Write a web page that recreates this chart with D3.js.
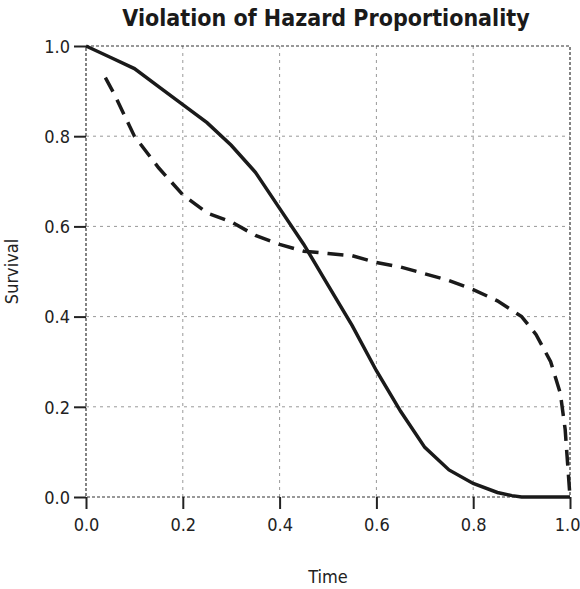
<!DOCTYPE html>
<html><head><meta charset="utf-8">
<script src="https://cdn.jsdelivr.net/npm/d3@7"></script>
<style>
body{margin:0;background:#fff}
text{font-family:"DejaVu Sans Condensed","DejaVu Sans",sans-serif;font-stretch:condensed}
</style></head><body>
<svg id="c" width="580" height="589"></svg>
<script>
// data
const solidT = [0,0.05,0.1,0.15,0.2,0.25,0.3,0.35,0.4,0.45,0.5,0.55,0.6,0.65,0.7,0.75,0.8,0.85,0.88,0.9,1.0];
const solidS = [1,0.975,0.95,0.91,0.87,0.83,0.78,0.72,0.64,0.56,0.47,0.38,0.28,0.19,0.11,0.06,0.03,0.01,0.003,0,0];
const dashT = [0.04,0.06,0.1,0.15,0.2,0.25,0.3,0.35,0.4,0.45,0.5,0.55,0.6,0.65,0.7,0.75,0.8,0.85,0.9,0.93,0.96,0.98,0.99,1.0];
const dashS = [0.93,0.89,0.8,0.73,0.67,0.63,0.61,0.58,0.56,0.545,0.54,0.535,0.52,0.51,0.495,0.48,0.46,0.435,0.40,0.36,0.30,0.23,0.15,0.0];
const ticks = [0,0.2,0.4,0.6,0.8,1.0];

const svg = d3.select("#c");
const x = d3.scaleLinear().domain([0,1]).range([86,570]);
const y = d3.scaleLinear().domain([0,1]).range([497,46]);

// grid
svg.append("g").selectAll("line").data(ticks.slice(1,5)).join("line")
  .attr("x1", d => x(d)).attr("x2", d => x(d)).attr("y1", y(0)).attr("y2", y(1))
  .attr("stroke","#999").attr("stroke-dasharray","3,4");
svg.append("g").selectAll("line").data(ticks.slice(1,5)).join("line")
  .attr("y1", d => y(d)).attr("y2", d => y(d)).attr("x1", x(0)).attr("x2", x(1))
  .attr("stroke","#999").attr("stroke-dasharray","3,4");
// border
svg.append("rect").attr("x",x(0)).attr("y",y(1)).attr("width",x(1)-x(0)).attr("height",y(0)-y(1))
  .attr("fill","none").attr("stroke","#333").attr("stroke-dasharray","3,2").attr("stroke-width",1.2);

const xAxis = svg.append("g").attr("transform",`translate(0,${y(0)})`)
  .call(d3.axisBottom(x).tickValues(ticks).tickFormat(d3.format(".1f")).tickSize(12).tickSizeOuter(0));
const yAxis = svg.append("g").attr("transform",`translate(${x(0)},0)`)
  .call(d3.axisLeft(y).tickValues(ticks).tickFormat(d3.format(".1f")).tickSize(12).tickSizeOuter(0));
[xAxis,yAxis].forEach(a => {
  a.select(".domain").remove();
  a.selectAll(".tick line").attr("stroke","#222").attr("stroke-width",2);
  a.selectAll(".tick text").attr("font-size",18).attr("fill","#222")
    .style("font-family","'DejaVu Sans Condensed','DejaVu Sans',sans-serif");
});
xAxis.selectAll(".tick text").attr("dy","1em").attr("y",16);
xAxis.selectAll(".tick text").filter(d => d === 1).attr("text-anchor","end").attr("dx",10);
yAxis.selectAll(".tick text").attr("x",-16).attr("dy","0.35em");

const line = d3.line().x(d => x(d[0])).y(d => y(d[1]));
svg.append("path").datum(d3.zip(solidT, solidS)).attr("d", line)
  .attr("fill","none").attr("stroke","#1a1a1a").attr("stroke-width",3.5);
svg.append("path").datum(d3.zip(dashT, dashS)).attr("d", line)
  .attr("fill","none").attr("stroke","#1a1a1a").attr("stroke-width",3.5).attr("stroke-dasharray","16,9");

svg.append("text").attr("x",326).attr("y",26).attr("text-anchor","middle")
  .attr("font-size",23).attr("font-weight","bold").attr("fill","#1a1a1a").text("Violation of Hazard Proportionality");
svg.append("text").attr("x",(x(0)+x(1))/2).attr("y",583).attr("text-anchor","middle")
  .attr("font-size",18).attr("fill","#222").text("Time");
svg.append("text").attr("transform",`translate(18,${y(0.5)}) rotate(-90)`).attr("text-anchor","middle")
  .attr("font-size",18).attr("fill","#222").text("Survival");
</script></body></html>
